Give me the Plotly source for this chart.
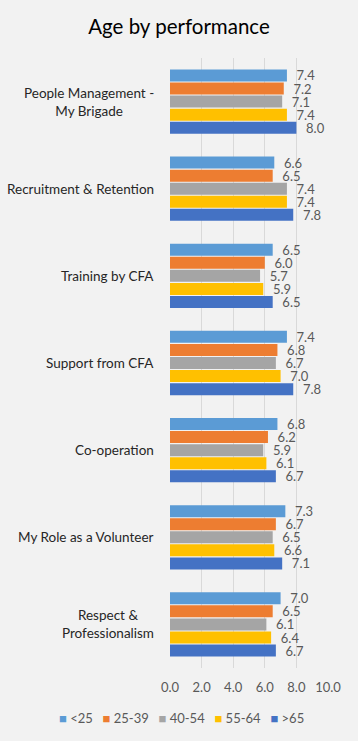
import plotly.graph_objects as go

categories = ["People Management -<br>My Brigade", "Recruitment & Retention", "Training by CFA",
              "Support from CFA", "Co-operation", "My Role as a Volunteer",
              "Respect &<br>Professionalism"]
series_names = ["<25", "25-39", "40-54", "55-64", ">65"]
v_lt25 = [7.4, 6.6, 6.5, 7.4, 6.8, 7.3, 7.0]
v_25_39 = [7.2, 6.5, 6.0, 6.8, 6.2, 6.7, 6.5]
v_40_54 = [7.1, 7.4, 5.7, 6.7, 5.9, 6.5, 6.1]
v_55_64 = [7.4, 7.4, 5.9, 7.0, 6.1, 6.6, 6.4]
v_gt65 = [8.0, 7.8, 6.5, 7.8, 6.7, 7.1, 6.7]
values = [v_lt25, v_25_39, v_40_54, v_55_64, v_gt65]
colors = ["#5B9BD5", "#ED7D31", "#A5A5A5", "#FFC000", "#4472C4"]
tick_vals = [0, 2, 4, 6, 8, 10]

FONT = "Lato"
BG = "#F2F2F2"
W, H = 358, 741
ML, MR, MT, MB = 170, 30, 58, 73
PW, PH = W - ML - MR, H - MT - MB

fig = go.Figure()
for name, vals, col in zip(series_names, values, colors):
    fig.add_trace(go.Bar(
        y=categories, x=vals, name=name, orientation="h",
        marker=dict(color=col, line=dict(width=0)),
        text=[f"\u00a0\u00a0{v:.1f}" for v in vals], textposition="outside",
        textfont=dict(size=13, color="#595959", family=FONT),
        cliponaxis=False, showlegend=False, hoverinfo="skip",
    ))

for c in categories:
    fig.add_annotation(x=0, xref="paper", xshift=-14, y=c, yref="y", text=c,
                       xanchor="right", align="center", showarrow=False,
                       font=dict(size=13.5, color="#262626", family=FONT))

# legend row (text with coloured square markers)
def esc(s):
    return s.replace("<", "&lt;").replace(">", "&gt;")

legend_text = "\u2003".join(
    f"<span style='color:{c};font-size:13px'>\u25A0</span>\u00a0{esc(n)}"
    for n, c in zip(series_names, colors))
fig.add_annotation(x=(181 - ML) / PW, xref="paper", y=-(718 - (H - MB)) / PH, yref="paper",
                   text=legend_text, showarrow=False, xanchor="center", yanchor="middle",
                   font=dict(size=13, color="#595959", family=FONT))

fig.update_layout(
    width=W, height=H,
    paper_bgcolor=BG, plot_bgcolor=BG,
    barmode="group", bargap=0.25, bargroupgap=0.08,
    margin=dict(l=ML, r=MR, t=MT, b=MB),
    title=dict(text="Age by performance", x=0.5, xanchor="center", y=1 - 27 / H,
               yanchor="middle", font=dict(size=20.5, color="#000000", family=FONT)),
    font=dict(family=FONT),
    uniformtext=dict(mode="show", minsize=13),
    showlegend=False,
)
fig.update_xaxes(range=[0, 10], tickvals=tick_vals, ticktext=[f"{t:.1f}" for t in tick_vals],
                 showgrid=True, gridcolor="#D9D9D9", gridwidth=1, zeroline=False,
                 showline=False, ticks="outside", ticklen=7, tickcolor="rgba(0,0,0,0)",
                 tickfont=dict(size=13, color="#595959", family=FONT))
fig.update_yaxes(autorange="reversed", showticklabels=False, showgrid=False, zeroline=False,
                 showline=False, ticks="")
fig.write_html("out.html", config={"displayModeBar": False},
               post_script="document.body.style.margin='0';document.body.style.background='%s';" % BG)
